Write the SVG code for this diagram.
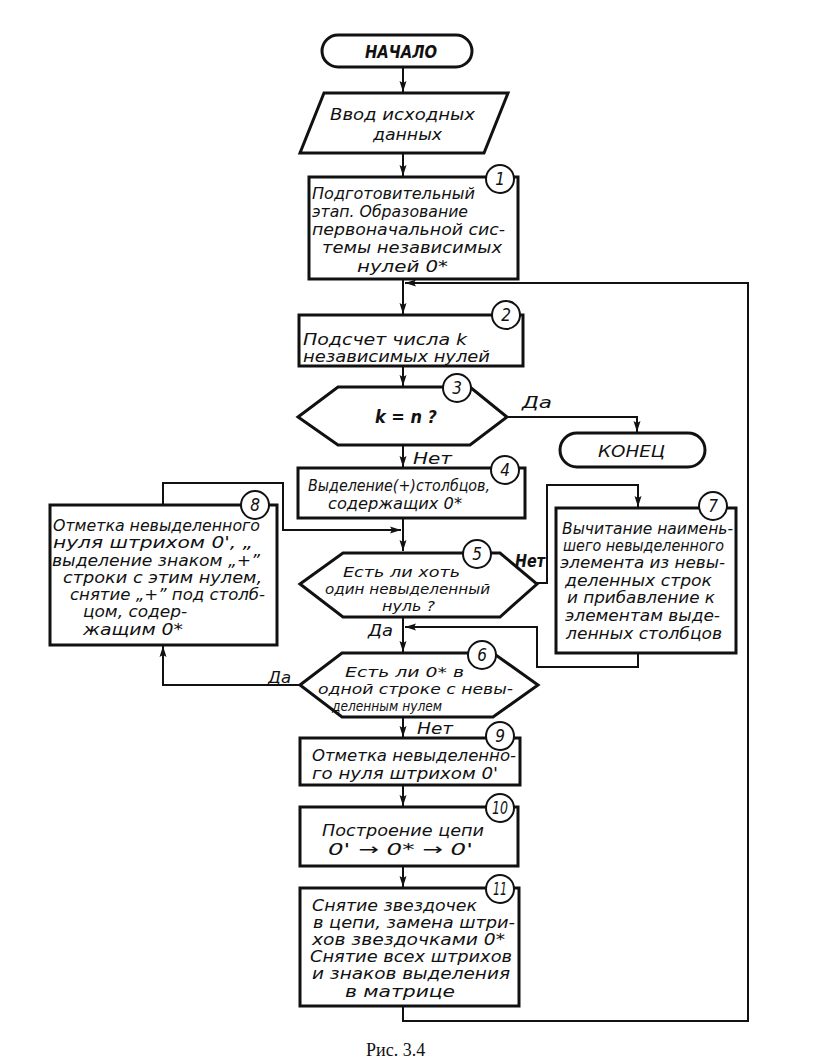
<svg xmlns="http://www.w3.org/2000/svg" width="831" height="1059" viewBox="0 0 831 1059">
<style>
.box{fill:#fff;stroke:#111;stroke-width:3;stroke-linejoin:miter}
.num{fill:#fff;stroke:#111;stroke-width:2}
.t{font-family:"DejaVu Sans Condensed","Liberation Sans",sans-serif;font-style:italic;font-size:16px;fill:#111}
.d{font-family:"DejaVu Sans Condensed","Liberation Sans",sans-serif;font-style:italic;font-size:14.5px;fill:#111}
.n{font-family:"DejaVu Sans Condensed","Liberation Sans",sans-serif;font-style:italic;font-size:17px;fill:#111;text-anchor:middle}
.lb{font-family:"DejaVu Sans Condensed","Liberation Sans",sans-serif;font-style:italic;font-weight:bold;font-size:17px;fill:#111}
.c{fill:none;stroke:#111;stroke-width:2}
.cap{font-family:"Liberation Serif",serif;font-size:18px;fill:#111}
</style>
<defs>
<marker id="ah" markerUnits="userSpaceOnUse" markerWidth="12" markerHeight="8" refX="11" refY="4" orient="auto">
<path d="M0,0.5 L11,4 L0,7.5 L2,4 z" fill="#111"/>
</marker>
</defs>
<rect width="831" height="1059" fill="#fff"/>

<g id="connectors">
<path class="c" d="M403,67 V92" marker-end="url(#ah)"/>
<path class="c" d="M403,153 V176" marker-end="url(#ah)"/>
<path class="c" d="M403,279 V314" marker-end="url(#ah)"/>
<path class="c" d="M403,366 V386" marker-end="url(#ah)"/>
<path class="c" d="M403,445 V467" marker-end="url(#ah)"/>
<path class="c" d="M403,518 V551" marker-end="url(#ah)"/>
<path class="c" d="M403,617 V652" marker-end="url(#ah)"/>
<path class="c" d="M403,717 V737" marker-end="url(#ah)"/>
<path class="c" d="M403,785 V806" marker-end="url(#ah)"/>
<path class="c" d="M403,866 V887" marker-end="url(#ah)"/>
<path class="c" d="M403,1006 V1021 H748 V283 H405" marker-end="url(#ah)"/>
<path class="c" d="M507,417 H637 V432" marker-end="url(#ah)"/>
<path class="c" d="M537,583 H547 V485 H638 V507" marker-end="url(#ah)"/>
<path class="c" d="M638,653 V667 H537 V627 H405" marker-end="url(#ah)"/>
<path class="c" d="M163,505 V483 H283 V530 H401" marker-end="url(#ah)"/>
<path class="c" d="M300,685 H163 V646" marker-end="url(#ah)"/>
</g>

<g id="start">
<rect class="box" x="322" y="35" width="150" height="32" rx="16"/>
<text class="lb" x="365" y="58" textLength="72" lengthAdjust="spacingAndGlyphs">НАЧАЛО</text>
</g>

<g id="input">
<polygon class="box" points="324,93 508,93 484,153 300,153"/>
<text class="t" x="330" y="120" textLength="145" lengthAdjust="spacingAndGlyphs">Ввод  исходных</text>
<text class="t" x="373" y="140" textLength="69" lengthAdjust="spacingAndGlyphs">данных</text>
</g>

<g id="n1">
<rect class="box" x="309" y="177" width="209" height="102"/>
<circle class="num" cx="500" cy="179" r="14"/>
<text class="n" x="500" y="185">1</text>
<text class="t" x="312" y="199" textLength="163" lengthAdjust="spacingAndGlyphs">Подготовительный</text>
<text class="t" x="312" y="217" textLength="156" lengthAdjust="spacingAndGlyphs">этап. Образование</text>
<text class="t" x="312" y="235" textLength="193" lengthAdjust="spacingAndGlyphs">первоначальной сис-</text>
<text class="t" x="322" y="253" textLength="180" lengthAdjust="spacingAndGlyphs">темы  независимых</text>
<text class="t" x="357" y="272" textLength="91" lengthAdjust="spacingAndGlyphs">нулей  0*</text>
</g>

<g id="n2">
<rect class="box" x="299" y="315" width="224" height="51"/>
<circle class="num" cx="506" cy="315" r="14"/>
<text class="n" x="506" y="321">2</text>
<text class="t" x="303" y="345" textLength="164" lengthAdjust="spacingAndGlyphs">Подсчет  числа k</text>
<text class="t" x="303" y="362" textLength="187" lengthAdjust="spacingAndGlyphs">независимых  нулей</text>
</g>

<g id="n3">
<polygon class="box" points="298,417 338,387 470,387 507,417 470,445 338,445"/>
<circle class="num" cx="457" cy="388" r="14"/>
<text class="n" x="457" y="394">3</text>
<text class="lb" x="375" y="423" textLength="62" lengthAdjust="spacingAndGlyphs">k = n ?</text>
<text class="t" x="522" y="408" textLength="30" lengthAdjust="spacingAndGlyphs">Да</text>
<text class="t" x="413" y="464" textLength="39" lengthAdjust="spacingAndGlyphs">Нет</text>
</g>

<g id="end">
<rect class="box" x="560" y="433" width="145" height="34" rx="17"/>
<text class="t" x="598" y="457" textLength="67" lengthAdjust="spacingAndGlyphs">КОНЕЦ</text>
</g>

<g id="n4">
<rect class="box" x="298" y="468" width="227" height="50"/>
<circle class="num" cx="505" cy="470" r="14"/>
<text class="n" x="505" y="476">4</text>
<text class="t" x="308" y="491" textLength="182" lengthAdjust="spacingAndGlyphs">Выделение(+)столбцов,</text>
<text class="t" x="328" y="509" textLength="134" lengthAdjust="spacingAndGlyphs">содержащих  0*</text>
</g>

<g id="n8">
<rect class="box" x="50" y="505" width="227" height="140"/>
<circle class="num" cx="255" cy="505" r="14"/>
<text class="n" x="255" y="511">8</text>
<text class="t" x="53" y="531" textLength="207" lengthAdjust="spacingAndGlyphs">Отметка невыделенного</text>
<text class="t" x="53" y="548" textLength="200" lengthAdjust="spacingAndGlyphs">нуля штрихом  0',  „</text>
<text class="t" x="52" y="566" textLength="208" lengthAdjust="spacingAndGlyphs">выделение знаком „+”</text>
<text class="t" x="63" y="583" textLength="199" lengthAdjust="spacingAndGlyphs">строки с этим нулем,</text>
<text class="t" x="70" y="600" textLength="195" lengthAdjust="spacingAndGlyphs">снятие „+” под столб-</text>
<text class="t" x="83" y="617" textLength="104" lengthAdjust="spacingAndGlyphs">цом, содер-</text>
<text class="t" x="83" y="635" textLength="100" lengthAdjust="spacingAndGlyphs">жащим  0*</text>
</g>

<g id="n5">
<polygon class="box" points="300,584 343,553 500,553 537,584 500,617 343,617"/>
<circle class="num" cx="477" cy="554" r="14"/>
<text class="n" x="477" y="560">5</text>
<text class="d" x="343" y="577" textLength="117" lengthAdjust="spacingAndGlyphs">Есть ли хоть</text>
<text class="d" x="325" y="594" textLength="165" lengthAdjust="spacingAndGlyphs">один невыделенный</text>
<text class="d" x="382" y="611" textLength="53" lengthAdjust="spacingAndGlyphs">нуль ?</text>
<text class="lb" x="515" y="567" textLength="30" lengthAdjust="spacingAndGlyphs">Нет</text>
<text class="t" x="368" y="636" textLength="25" lengthAdjust="spacingAndGlyphs">Да</text>
</g>

<g id="n7">
<rect class="box" x="556" y="508" width="180" height="145"/>
<circle class="num" cx="713" cy="506" r="14"/>
<text class="n" x="713" y="512">7</text>
<text class="t" x="562" y="534" textLength="171" lengthAdjust="spacingAndGlyphs">Вычитание наимень-</text>
<text class="t" x="563" y="551" textLength="161" lengthAdjust="spacingAndGlyphs">шего невыделенного</text>
<text class="t" x="560" y="568" textLength="165" lengthAdjust="spacingAndGlyphs">элемента из невы-</text>
<text class="t" x="565" y="586" textLength="147" lengthAdjust="spacingAndGlyphs">деленных  строк</text>
<text class="t" x="567" y="603" textLength="148" lengthAdjust="spacingAndGlyphs">и прибавление к</text>
<text class="t" x="565" y="621" textLength="155" lengthAdjust="spacingAndGlyphs">элементам выде-</text>
<text class="t" x="566" y="639" textLength="156" lengthAdjust="spacingAndGlyphs">ленных столбцов</text>
</g>

<g id="n6">
<polygon class="box" points="300,685 342,653 493,653 538,685 493,717 342,717"/>
<circle class="num" cx="482" cy="655" r="14"/>
<text class="n" x="482" y="661">6</text>
<text class="d" x="345" y="677" textLength="119" lengthAdjust="spacingAndGlyphs">Есть ли  0* в</text>
<text class="d" x="318" y="694" textLength="195" lengthAdjust="spacingAndGlyphs">одной строке с невы-</text>
<text class="d" x="332" y="711" textLength="110" lengthAdjust="spacingAndGlyphs">деленным нулем</text>
<text class="t" x="268" y="683" textLength="23" lengthAdjust="spacingAndGlyphs">Да</text>
<text class="t" x="417" y="734" textLength="36" lengthAdjust="spacingAndGlyphs">Нет</text>
</g>

<g id="n9">
<rect class="box" x="300" y="738" width="220" height="47"/>
<circle class="num" cx="500" cy="736" r="14"/>
<text class="n" x="500" y="742">9</text>
<text class="t" x="312" y="761" textLength="204" lengthAdjust="spacingAndGlyphs">Отметка невыделенно-</text>
<text class="t" x="312" y="779" textLength="186" lengthAdjust="spacingAndGlyphs">го нуля штрихом 0'</text>
</g>

<g id="n10">
<rect class="box" x="300" y="807" width="218" height="59"/>
<circle class="num" cx="500" cy="808" r="14"/>
<text class="n" x="500" y="814" textLength="16" lengthAdjust="spacingAndGlyphs">10</text>
<text class="t" x="322" y="836" textLength="162" lengthAdjust="spacingAndGlyphs">Построение  цепи</text>
<text class="t" x="328" y="855" textLength="145" lengthAdjust="spacingAndGlyphs">0' → 0* → 0'</text>
</g>

<g id="n11">
<rect class="box" x="300" y="888" width="219" height="118"/>
<circle class="num" cx="500" cy="889" r="14"/>
<text class="n" x="500" y="895" textLength="14" lengthAdjust="spacingAndGlyphs">11</text>
<text class="t" x="312" y="911" textLength="165" lengthAdjust="spacingAndGlyphs">Снятие звездочек</text>
<text class="t" x="313" y="928" textLength="202" lengthAdjust="spacingAndGlyphs">в цепи, замена штри-</text>
<text class="t" x="312" y="945" textLength="193" lengthAdjust="spacingAndGlyphs">хов звездочками 0*</text>
<text class="t" x="310" y="962" textLength="202" lengthAdjust="spacingAndGlyphs">Снятие всех штрихов</text>
<text class="t" x="312" y="979" textLength="198" lengthAdjust="spacingAndGlyphs">и знаков выделения</text>
<text class="t" x="345" y="997" textLength="110" lengthAdjust="spacingAndGlyphs">в матрице</text>
</g>

<text class="cap" x="366" y="1056">Рис. 3.4</text>
</svg>
